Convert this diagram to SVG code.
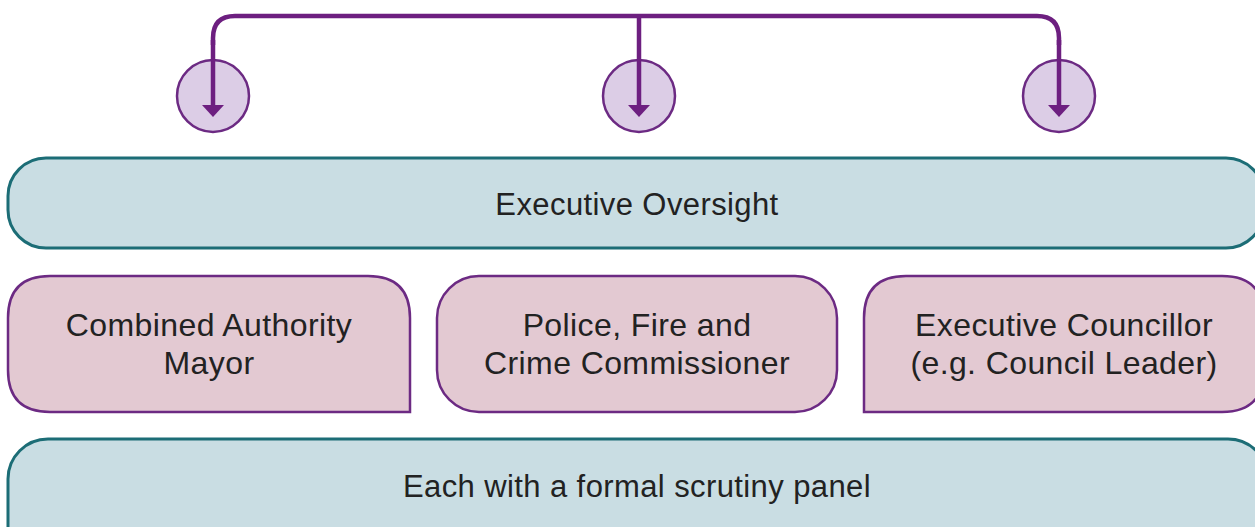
<svg xmlns="http://www.w3.org/2000/svg" width="1255" height="527" viewBox="0 0 1255 527">
<defs>
<style>
.teal{fill:#c9dde3;stroke:#1c6d76;stroke-width:3}
.pink{fill:#e3c9d2;stroke:#6c2a83;stroke-width:2.5}
.circ{fill:#dccde6;stroke:#6c2a83;stroke-width:2.5}
.conn{fill:none;stroke:#6d1f80;stroke-width:4.5}
.lbl{font-family:"Liberation Sans",Arial,sans-serif;font-size:31px;fill:#222;text-anchor:middle;letter-spacing:0.4px}
.lbl2{font-size:32px}
</style>
<marker id="ah" viewBox="0 0 12 22" refX="2" refY="11" markerWidth="12" markerHeight="22" markerUnits="userSpaceOnUse" orient="auto">
<path d="M0,0 L12,11 L0,22 Z" fill="#6d1f80"/>
</marker>
</defs>
<rect width="1255" height="527" fill="#ffffff"/>
<g id="circle-left"><circle class="circ" cx="213" cy="96" r="36"/></g>
<g id="circle-mid"><circle class="circ" cx="639" cy="96" r="36"/></g>
<g id="circle-right"><circle class="circ" cx="1059" cy="96" r="36"/></g>
<g id="connectors">
<path class="conn" d="M213,45 V38 Q213,16 235,16 H1037 Q1059,16 1059,38 V45"/>
<path class="conn" d="M213,40 V107" marker-end="url(#ah)"/>
<path class="conn" d="M639,16 V107" marker-end="url(#ah)"/>
<path class="conn" d="M1059,40 V107" marker-end="url(#ah)"/>
</g>
<g id="executive-oversight">
<rect class="teal" x="8" y="158" width="1256" height="90" rx="38" ry="38"/>
<text class="lbl" x="637" y="215">Executive Oversight</text>
</g>
<g id="mayor">
<path class="pink" d="M410,412 H50 Q8,412 8,370 V318 Q8,276 50,276 H368 Q410,276 410,318 Z"/>
<text class="lbl lbl2" x="209" y="336">Combined Authority</text>
<text class="lbl lbl2" x="209" y="374">Mayor</text>
</g>
<g id="pfcc">
<rect class="pink" x="437" y="276" width="400" height="136" rx="42" ry="42"/>
<text class="lbl lbl2" x="637" y="336">Police, Fire and</text>
<text class="lbl lbl2" x="637" y="374">Crime Commissioner</text>
</g>
<g id="councillor">
<path class="pink" d="M864,412 V318 Q864,276 906,276 H1222 Q1264,276 1264,318 V370 Q1264,412 1222,412 Z"/>
<text class="lbl lbl2" x="1064" y="336">Executive Councillor</text>
<text class="lbl lbl2" x="1064" y="374">(e.g. Council Leader)</text>
</g>
<g id="scrutiny">
<rect class="teal" x="8" y="439" width="1260" height="130" rx="40" ry="40"/>
<text class="lbl" x="637" y="497">Each with a formal scrutiny panel</text>
</g>
</svg>
